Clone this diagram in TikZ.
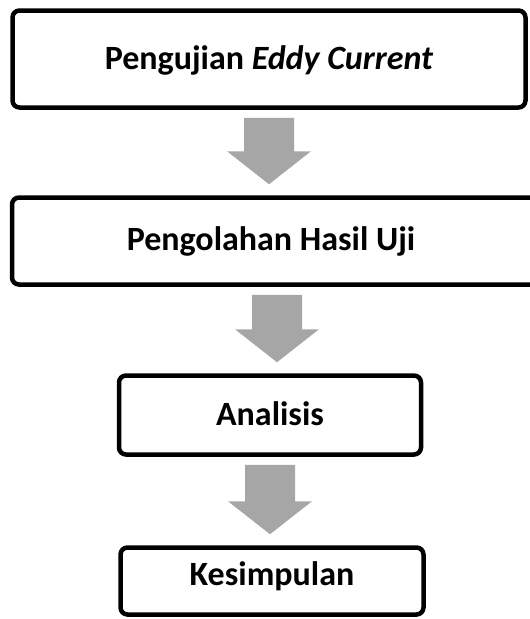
\documentclass[tikz,border=0pt]{standalone}
\usepackage{fontspec}
\setmainfont{Carlito}
\usepackage{tikz}
\usetikzlibrary{calc,positioning}
\usepackage{xcolor}
\definecolor{arrowgray}{HTML}{A6A6A6}

\begin{document}
\begin{tikzpicture}[x=1pt, y=-1pt,
  stepbox/.style={draw, line width=4.5pt, rounded corners=7pt, inner sep=0pt,
    font=\fontsize{34}{38}\selectfont\bfseries},
  flowarrow/.style={fill=arrowgray, to path={
    let \p1=($(\tikztostart)+(0,-8pt)$), \p2=($(\tikztotarget)+(0,11pt)$) in
    (\x1-25pt,\y1) -- (\x1+25pt,\y1) -- (\x1+25pt,\y2+33pt) -- (\x1+42pt,\y2+33pt)
    -- (\x1,\y2) -- (\x1-42pt,\y2+33pt) -- (\x1-25pt,\y2+33pt) -- cycle}}]

  \useasboundingbox (0,0) rectangle (530,619);

  % ---- the four steps ----
  \node[stepbox, minimum width=513pt, text height=59pt, text depth=38pt] (uji) at (269,59)
    {Pengujian \textit{Eddy Current}};
  % this one runs off the right edge
  \node[stepbox, minimum width=530pt, text height=53pt, text depth=34pt] (olah) at (277,241)
    {\hspace*{-12pt}Pengolahan Hasil Uji};
  \node[stepbox, minimum width=302pt, text height=50pt, text depth=29pt] (anl) at (270,415)
    {Analisis};
  \node[stepbox, minimum width=303pt, text height=38pt, text depth=29pt] (kes) at (272,581)
    {Kesimpulan};

  % ---- block arrows between the steps ----
  \path[flowarrow] (uji.south) to (olah.north);
  \path[flowarrow] (olah.south) to (anl.north);
  \path[flowarrow] (anl.south) to (kes.north);

\end{tikzpicture}
\end{document}
